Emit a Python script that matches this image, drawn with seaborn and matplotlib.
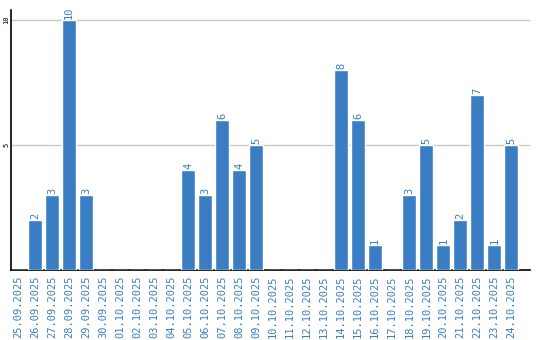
import matplotlib
matplotlib.use("Agg")
import matplotlib.pyplot as plt
import seaborn as sns
import pandas as pd

dates = ["25.09.2025", "26.09.2025", "27.09.2025", "28.09.2025", "29.09.2025",
         "30.09.2025", "01.10.2025", "02.10.2025", "03.10.2025", "04.10.2025",
         "05.10.2025", "06.10.2025", "07.10.2025", "08.10.2025", "09.10.2025",
         "10.10.2025", "11.10.2025", "12.10.2025", "13.10.2025", "14.10.2025",
         "15.10.2025", "16.10.2025", "17.10.2025", "18.10.2025", "19.10.2025",
         "20.10.2025", "21.10.2025", "22.10.2025", "23.10.2025", "24.10.2025"]
values = [0, 2, 3, 10, 3, 0, 0, 0, 0, 0, 4, 3, 6, 4, 5,
          0, 0, 0, 0, 8, 6, 1, 0, 3, 5, 1, 2, 7, 1, 5]
yticks = [5, 10]

blue = "#3b7dc3"
sns.set_theme(style="white")
plt.rcParams["font.family"] = ["DejaVu Sans Mono", "DejaVu Sans"]

df = pd.DataFrame({"date": dates, "value": values})
fig = plt.figure(figsize=(5.4, 3.4), dpi=100)
ax = fig.add_axes([11 / 540, 1 - 270 / 340, 519 / 540, 260 / 340])
sns.barplot(data=df, x="date", y="value", color=blue, saturation=1,
            width=0.82, ax=ax, zorder=3)
ax.set_xlim(-0.41, 30.1)
ax.set_ylim(0, 10.4)
ax.set_yticks(yticks)
ax.set_yticklabels([str(t) for t in yticks], rotation=90, va="center",
                   fontsize=5, color="black")
ax.tick_params(axis="y", length=0, pad=1)
ax.tick_params(axis="x", length=0, pad=4, labelrotation=90, labelsize=7.5,
               labelcolor=blue)
for lbl in ax.get_xticklabels():
    lbl.set_verticalalignment("top")
ax.yaxis.grid(True, color="#c8c8c8", linewidth=1, zorder=0)
ax.set_axisbelow(True)
ax.set_xlabel("")
ax.set_ylabel("")
for s in ["top", "right"]:
    ax.spines[s].set_visible(False)
for s in ["left", "bottom"]:
    ax.spines[s].set_color("black")
    ax.spines[s].set_linewidth(1.2)

cont = ax.containers[0]
labels = [str(v) if v > 0 else "" for v in values]
ax.bar_label(cont, labels=labels, rotation=90, color=blue, fontsize=7.5,
             padding=1)

fig.savefig("out.png", dpi=100)
